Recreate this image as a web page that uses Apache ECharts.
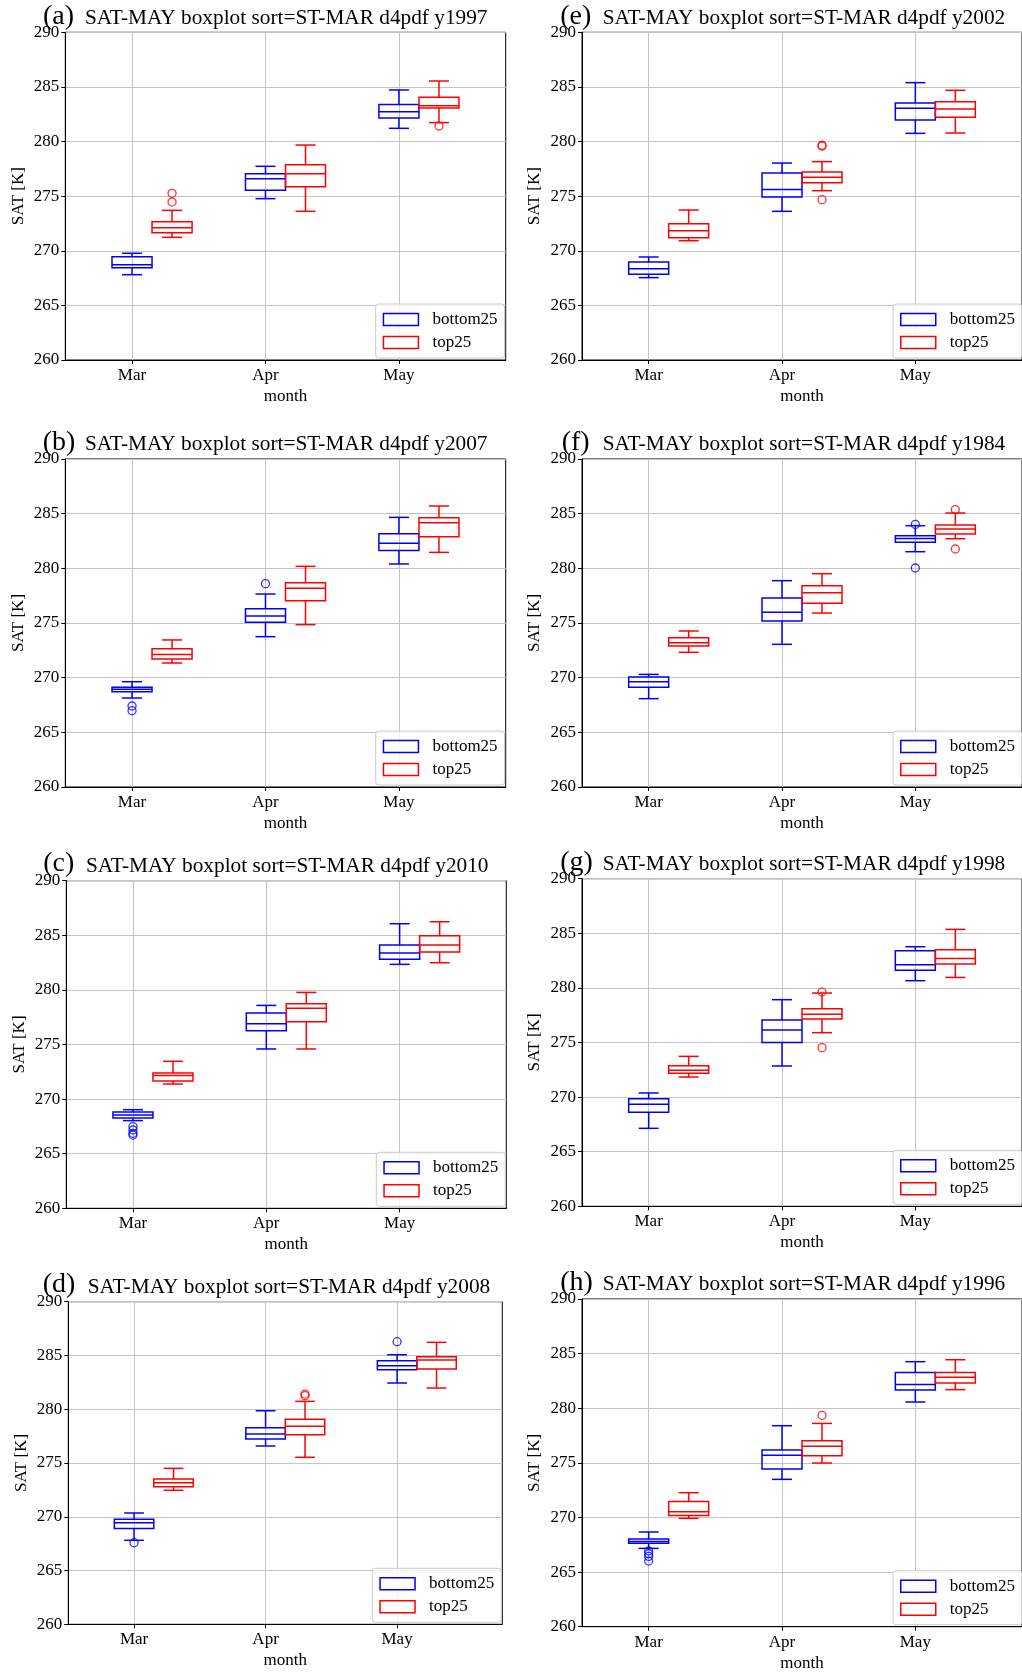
<!DOCTYPE html>
<html>
<head>
<meta charset="utf-8">
<script src="https://cdn.jsdelivr.net/npm/echarts@6/dist/echarts.min.js"></script>
<style>
html, body { margin: 0; padding: 0; background: #fff; }
#main { width: 1022px; height: 1673px; }
</style>
</head>
<body>
<div id="main"></div>
<script>
const months = ['Mar', 'Apr', 'May']
const panelTags = ['(a)', '(b)', '(c)', '(d)', '(e)', '(f)', '(g)', '(h)']
const panelYears = ['y1997', 'y2007', 'y2010', 'y2008', 'y2002', 'y1984', 'y1998', 'y1996']
const yTicks = [260, 265, 270, 275, 280, 285, 290]

// each row: [low whisker, Q1, median, Q3, high whisker] for Mar, Apr, May
const bottom_a = [[267.81, 268.45, 268.73, 269.46, 269.77], [274.77, 275.53, 276.60, 277.06, 277.73], [281.21, 282.15, 282.73, 283.38, 284.72]]
const top_a = [[271.23, 271.66, 272.11, 272.66, 273.70], [273.61, 275.87, 277.06, 277.88, 279.68], [281.73, 283.07, 283.28, 284.05, 285.54]]
const bottomOut_a = []
const topOut_a = [[0, 275.26], [0, 274.46], [2, 281.42]]

const bottom_b = [[268.14, 268.72, 268.93, 269.12, 269.63], [273.75, 275.06, 275.64, 276.31, 277.65], [280.40, 281.62, 282.29, 283.17, 284.66]]
const top_b = [[271.34, 271.71, 272.13, 272.65, 273.45], [274.85, 277.04, 278.17, 278.69, 280.18], [281.46, 282.90, 284.18, 284.63, 285.70]]
const bottomOut_b = [[0, 267.41], [0, 266.98], [1, 278.60]]
const topOut_b = []

const bottom_c = [[268.03, 268.27, 268.54, 268.82, 269.03], [274.59, 276.26, 276.91, 277.88, 278.58], [282.34, 282.80, 283.38, 284.11, 286.06]]
const top_c = [[271.38, 271.66, 272.15, 272.39, 273.46], [274.59, 277.09, 278.31, 278.74, 279.77], [282.49, 283.47, 284.11, 284.96, 286.24]]
const bottomOut_c = [[0, 267.48], [0, 267.17], [0, 266.87], [0, 266.71]]
const topOut_c = []

const bottom_d = [[267.81, 268.92, 269.45, 269.76, 270.35], [276.58, 277.23, 277.69, 278.28, 279.86], [282.44, 283.68, 284.05, 284.51, 285.07]]
const top_d = [[272.46, 272.80, 273.17, 273.51, 274.50], [275.53, 277.63, 278.41, 279.06, 280.73], [281.97, 283.74, 284.57, 284.88, 286.22]]
const bottomOut_d = [[0, 267.59], [2, 286.28]]
const topOut_d = [[1, 281.41], [1, 281.26]]

const bottom_e = [[267.54, 267.84, 268.36, 268.97, 269.43], [273.61, 274.92, 275.62, 277.12, 278.03], [280.75, 281.97, 283.04, 283.53, 285.39]]
const top_e = [[270.92, 271.20, 271.84, 272.48, 273.73], [275.50, 276.23, 276.72, 277.21, 278.16], [280.78, 282.22, 282.98, 283.65, 284.69]]
const bottomOut_e = []
const topOut_e = [[1, 279.66], [1, 279.58], [1, 274.68]]

const bottom_f = [[268.08, 269.12, 269.63, 270.06, 270.30], [273.05, 275.18, 275.98, 277.29, 278.87], [281.52, 282.38, 282.74, 282.99, 283.90]]
const top_f = [[272.32, 272.90, 273.20, 273.66, 274.27], [275.91, 276.80, 277.77, 278.41, 279.51], [282.71, 283.14, 283.60, 283.96, 285.06]]
const bottomOut_f = [[2, 284.02], [2, 280.03]]
const topOut_f = [[2, 285.37], [2, 281.77]]

const bottom_g = [[267.14, 268.61, 269.34, 269.86, 270.38], [272.85, 275.01, 276.14, 277.06, 278.92], [280.66, 281.61, 282.12, 283.41, 283.77]]
const top_g = [[271.84, 272.18, 272.45, 272.88, 273.73], [275.90, 277.15, 277.58, 278.10, 279.53], [280.96, 282.18, 282.70, 283.50, 285.36]]
const bottomOut_g = []
const topOut_g = [[1, 279.62], [1, 274.53]]

const bottom_h = [[267.17, 267.63, 267.81, 268.03, 268.67], [273.49, 274.43, 275.69, 276.17, 278.40], [280.57, 281.67, 282.18, 283.28, 284.26]]
const top_h = [[269.92, 270.19, 270.53, 271.47, 272.27], [274.98, 275.65, 276.51, 277.03, 278.61], [281.70, 282.31, 282.83, 283.28, 284.44]]
const bottomOut_h = [[0, 266.93], [0, 266.68], [0, 266.44], [0, 266.01]]
const topOut_h = [[1, 279.35]]

const bottomAll = [bottom_a, bottom_b, bottom_c, bottom_d, bottom_e, bottom_f, bottom_g, bottom_h]
const topAll = [top_a, top_b, top_c, top_d, top_e, top_f, top_g, top_h]
const bottomOutAll = [bottomOut_a, bottomOut_b, bottomOut_c, bottomOut_d, bottomOut_e, bottomOut_f, bottomOut_g, bottomOut_h]
const topOutAll = [topOut_a, topOut_b, topOut_c, topOut_d, topOut_e, topOut_f, topOut_g, topOut_h]

// plot rectangles [left, top, right, bottom] and title anchors [tagX, textX, baseline]
const rects = [
	[65.3, 32.3, 505.7, 360], [65.3, 459, 505.7, 787], [66.3, 880.7, 506.3, 1208.3], [68.3, 1301.7, 502.3, 1624.3],
	[582, 32.3, 1023, 360], [582, 459, 1023, 787], [582, 878.7, 1023, 1206.3], [582, 1299, 1023, 1626.7]
]
const titlePos = [
	[43, 85, 25.7], [42.7, 85, 451.7], [43.3, 86, 873.3], [42.7, 87.7, 1294.3],
	[560.3, 602.7, 25.7], [561.7, 602.7, 451.7], [560.3, 602.7, 871.7], [560.3, 602.7, 1291.7]
]

const FONT = 'Liberation Serif'
const BLUE = '#0000ff'
const RED = '#ff0000'
const BOX_W = 0.3
const SHIFT = 0.3

const chart = echarts.init(document.getElementById('main'))

//箱线图绘制
function boxRenderer(color) {
	return function (params, api) {
		const x = api.value(0)
		const half = api.size([BOX_W, 0])[0] / 2
		const cap = half / 2
		const p = [1, 2, 3, 4, 5].map(i => api.coord([x, api.value(i)]))
		const cx = p[0][0]
		const st = { stroke: color, lineWidth: 1.5, fill: null }
		return {
			type: 'group',
			children: [
				{ type: 'line', shape: { x1: cx, y1: p[0][1], x2: cx, y2: p[1][1] }, style: st },
				{ type: 'line', shape: { x1: cx, y1: p[3][1], x2: cx, y2: p[4][1] }, style: st },
				{ type: 'line', shape: { x1: cx - cap, y1: p[0][1], x2: cx + cap, y2: p[0][1] }, style: st },
				{ type: 'line', shape: { x1: cx - cap, y1: p[4][1], x2: cx + cap, y2: p[4][1] }, style: st },
				{ type: 'rect', shape: { x: cx - half, y: p[3][1], width: 2 * half, height: p[1][1] - p[3][1] }, style: st },
				{ type: 'line', shape: { x1: cx - half, y1: p[2][1], x2: cx + half, y2: p[2][1] }, style: st }
			]
		}
	}
}

const grid = [], xAxis = [], yAxis = [], series = [], title = [], legend = []

for (let i = 0; i < 8; i++) {
	const r = rects[i]
	const right = i >= 4
	grid.push({ left: r[0], top: r[1], width: r[2] - r[0], height: r[3] - r[1], show: true, borderColor: '#000', borderWidth: 1, backgroundColor: 'transparent' })
	xAxis.push({
		type: 'value', gridIndex: i, min: 0.5, max: 3.8,
		name: 'month', nameLocation: 'middle', nameGap: 28,
		nameTextStyle: { fontFamily: FONT, fontSize: 17, color: '#000' },
		axisLine: { lineStyle: { color: '#000', width: 1 } },
		axisTick: { show: true, length: 4, lineStyle: { color: '#000' }, customValues: [1, 2, 3] },
		axisLabel: { customValues: [1, 2, 3], margin: 7, fontFamily: FONT, fontSize: 17, color: '#000',
			formatter: v => months[Math.round(v) - 1] },
		splitLine: { show: true, lineStyle: { color: '#c4c4c4', width: 1 } }
	})
	yAxis.push({
		type: 'value', gridIndex: i, min: yTicks[0], max: yTicks[yTicks.length - 1], interval: 5,
		name: 'SAT [K]', nameLocation: 'middle', nameGap: right ? 39 : 38,
		nameTextStyle: { fontFamily: FONT, fontSize: 17, color: '#000' },
		axisLine: { show: true, lineStyle: { color: '#000', width: 1 } },
		axisTick: { show: true, length: 4, lineStyle: { color: '#000' } },
		axisLabel: { margin: 6, fontFamily: FONT, fontSize: 17, color: '#000' },
		splitLine: { show: true, lineStyle: { color: '#c4c4c4', width: 1 } }
	})

	const bData = bottomAll[i].map((d, m) => [m + 1].concat(d))
	const tData = topAll[i].map((d, m) => [m + 1 + SHIFT].concat(d))
	series.push({ name: 'bottom25', type: 'custom', xAxisIndex: i, yAxisIndex: i, itemStyle: { color: BLUE },
		renderItem: boxRenderer(BLUE), encode: { x: 0, y: [1, 2, 3, 4, 5] }, data: bData })
	series.push({ name: 'top25', type: 'custom', xAxisIndex: i, yAxisIndex: i, itemStyle: { color: RED },
		renderItem: boxRenderer(RED), encode: { x: 0, y: [1, 2, 3, 4, 5] }, data: tData })
	series.push({ name: 'bottom25 fliers', type: 'scatter', xAxisIndex: i, yAxisIndex: i, symbol: 'circle', symbolSize: 8,
		itemStyle: { color: 'rgba(0,0,0,0)', borderColor: BLUE, borderWidth: 1.3 },
		data: bottomOutAll[i].map(o => [o[0] + 1, o[1]]) })
	series.push({ name: 'top25 fliers', type: 'scatter', xAxisIndex: i, yAxisIndex: i, symbol: 'circle', symbolSize: 8,
		itemStyle: { color: 'rgba(0,0,0,0)', borderColor: RED, borderWidth: 1.3 },
		data: topOutAll[i].map(o => [o[0] + 1 + SHIFT, o[1]]) })

	const tp = titlePos[i]
	title.push({ text: panelTags[i], left: tp[0], top: tp[2] - 23.5, padding: 0,
		textStyle: { fontFamily: FONT, fontSize: 28, fontWeight: 'normal', color: '#000' } })
	title.push({ text: 'SAT-MAY boxplot sort=ST-MAR d4pdf ' + panelYears[i], left: tp[1], top: tp[2] - 17.9, padding: 0,
		textStyle: { fontFamily: FONT, fontSize: 21.3, fontWeight: 'normal', color: '#000' } })

	legend.push({
		left: r[2] - 130, top: r[3] - 56, orient: 'vertical',
		padding: [7, 7, 7, 7], itemWidth: 35, itemHeight: 12, itemGap: 6,
		backgroundColor: 'rgba(255,255,255,0.8)', borderColor: '#cccccc', borderWidth: 1, borderRadius: 3,
		selectedMode: false,
		textStyle: { fontFamily: FONT, fontSize: 17, color: '#000', lineHeight: 17, padding: [0, 0, 0, 9] },
		data: [
			{ name: 'bottom25', icon: 'rect', itemStyle: { color: '#fff', borderColor: BLUE, borderWidth: 1.5 } },
			{ name: 'top25', icon: 'rect', itemStyle: { color: '#fff', borderColor: RED, borderWidth: 1.5 } }
		]
	})
}

chart.setOption({
	animation: false,
	backgroundColor: '#fff',
	title: title,
	legend: legend,
	grid: grid,
	xAxis: xAxis,
	yAxis: yAxis,
	series: series
})
</script>
</body>
</html>
